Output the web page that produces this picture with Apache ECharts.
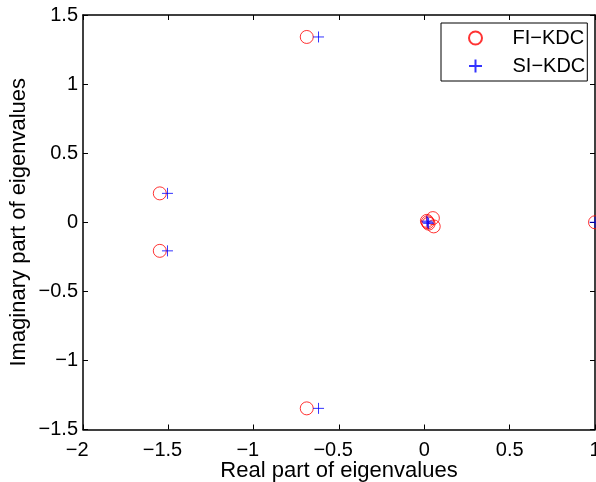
<!DOCTYPE html>
<html>
<head>
<meta charset="utf-8">
<script src="https://cdn.jsdelivr.net/npm/echarts@6/dist/echarts.min.js"></script>
<style>html,body{margin:0;padding:0;background:#fff}#c{width:596px;height:482px}</style>
</head>
<body>
<div id="c"></div>
<script>
var fiX = [-0.689, -0.689, -1.55, -1.55, 0.02, 0.015, 0.025, 0.05, 0.055, 1.0];
var fiY = [1.341, -1.347, 0.209, -0.207, 0, 0.01, -0.01, 0.03, -0.03, 0];
var siX = [-0.62, -0.62, -1.505, -1.505, 0.02, 0.015, 0.025, 1.0];
var siY = [1.341, -1.347, 0.209, -0.207, 0, 0.008, -0.008, 0];
var seriesNames = ['FI\u2212KDC', 'SI\u2212KDC'];
var xTitle = 'Real part of eigenvalues';
var yTitle = 'Imaginary part of eigenvalues';

function zip(a, b) { return a.map(function (v, i) { return [v, b[i]]; }); }
function fmt(v) { return String(v).replace('-', '\u2212'); }
function fmtX(v) {
  var s = fmt(v);
  return v < 0 ? s + '{h|\u2212}' : s;
}
var FONT = 'Liberation Sans';
var tickFont = 20;
var titleFont = 22;
var plusPath = 'path://M0,5L10,5M5,0L5,10';

var chart = echarts.init(document.getElementById('c'), null, {renderer: 'canvas'});
var axisLine = {show: true, onZero: false, lineStyle: {color: '#000', width: 1.5}};
var axisTick = {show: true, inside: true, length: 5, lineStyle: {color: '#000', width: 1}};
chart.setOption({
  animation: false,
  backgroundColor: '#fff',
  grid: {left: 83, right: 1, top: 15, bottom: 52.5, containLabel: false, outerBoundsMode: 'none'},
  xAxis: [{
    type: 'value', min: -2, max: 1, interval: 0.5, position: 'bottom',
    axisLine: axisLine, axisTick: axisTick, splitLine: {show: false},
    axisLabel: {formatter: fmtX, color: '#000', fontFamily: FONT, fontSize: tickFont, margin: 11,
      showMaxLabel: true, showMinLabel: true, hideOverlap: false,
      rich: {h: {color: 'rgba(0,0,0,0)', fontFamily: FONT, fontSize: tickFont}}},
    name: xTitle, nameLocation: 'middle', nameGap: 30, nameMoveOverlap: false,
    nameTextStyle: {color: '#000', fontFamily: FONT, fontSize: titleFont}
  }, {
    type: 'value', min: -2, max: 1, interval: 0.5, position: 'top',
    axisLine: axisLine, axisTick: axisTick, splitLine: {show: false},
    axisLabel: {show: false}
  }],
  yAxis: [{
    type: 'value', min: -1.5, max: 1.5, interval: 0.5, position: 'left',
    axisLine: axisLine, axisTick: axisTick, splitLine: {show: false},
    axisLabel: {formatter: fmt, color: '#000', fontFamily: FONT, fontSize: tickFont, margin: 5,
      showMaxLabel: true, showMinLabel: true, hideOverlap: false},
    name: yTitle, nameLocation: 'middle', nameGap: 53, nameMoveOverlap: false,
    nameTextStyle: {color: '#000', fontFamily: FONT, fontSize: titleFont}
  }, {
    type: 'value', min: -1.5, max: 1.5, interval: 0.5, position: 'right',
    axisLine: axisLine, axisTick: axisTick, splitLine: {show: false},
    axisLabel: {show: false}
  }],
  legend: {
    orient: 'vertical', left: 441, top: 23,
    backgroundColor: '#fff', borderColor: '#000', borderWidth: 1,
    padding: [4, 2, 4, 27], itemGap: 6, itemWidth: 46, itemHeight: 13,
    textStyle: {color: '#000', fontFamily: FONT, fontSize: 20, lineHeight: 22, padding: [0, 0, 0, 9]},
    data: seriesNames
  },
  series: [{
    name: seriesNames[0], type: 'scatter', data: zip(fiX, fiY),
    symbol: 'circle', symbolSize: 13, clip: true,
    itemStyle: {color: 'rgba(0,0,0,0)', borderColor: '#ff0000', borderWidth: 1}
  }, {
    name: seriesNames[1], type: 'scatter', data: zip(siX, siY),
    symbol: plusPath, symbolSize: 11, clip: true,
    itemStyle: {color: 'rgba(0,0,0,0)', borderColor: '#0000ff', borderWidth: 1}
  }]
});
</script>
</body>
</html>
